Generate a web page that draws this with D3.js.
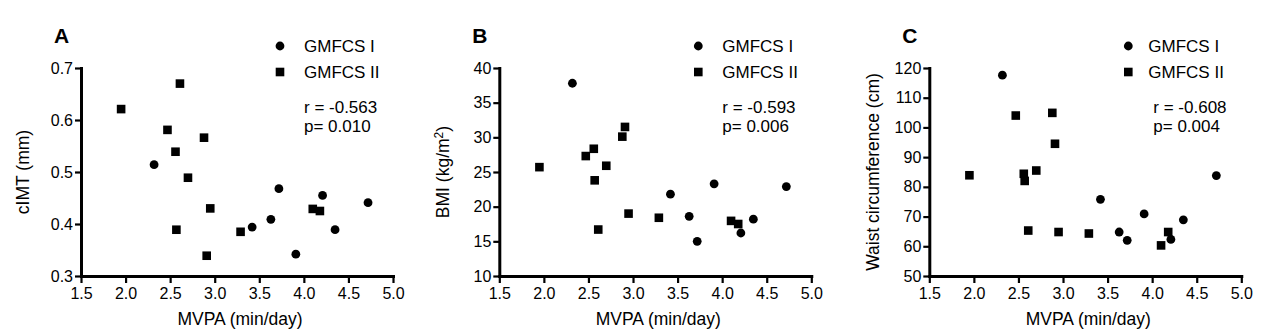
<!DOCTYPE html>
<html>
<head>
<meta charset="utf-8">
<script src="https://cdn.jsdelivr.net/npm/d3@7"></script>
<style>
  body { margin: 0; background: #fff; }
  text { font-family: "Liberation Sans", Arial, sans-serif; fill: #000; }
</style>
</head>
<body>
<div id="dashboard"></div>
<script>
// MVPA (min/day) for each child, split by GMFCS level
const mvpaI  = [2.32, 3.42, 3.63, 3.72, 3.91, 4.21, 4.35, 4.72];
const mvpaII = [1.95, 2.47, 2.56, 2.57, 2.61, 2.70, 2.88, 2.91, 2.95, 3.29, 4.10, 4.18];

// Outcome values, same order as the MVPA arrays
const cimtI  = [0.514, 0.394, 0.409, 0.468, 0.342, 0.455, 0.389, 0.441];
const cimtII = [0.621, 0.581, 0.539, 0.389, 0.670, 0.489, 0.566, 0.339, 0.430, 0.385, 0.429, 0.425];

const bmiI  = [37.8, 21.8, 18.6, 15.0, 23.3, 16.2, 18.2, 22.9];
const bmiII = [25.7, 27.3, 28.35, 23.8, 16.7, 25.9, 30.1, 31.5, 19.0, 18.4, 17.95, 17.5];

const waistI  = [117.6, 75.8, 64.8, 62.0, 70.9, 62.3, 68.9, 83.8];
const waistII = [83.9, 104.0, 84.4, 82.0, 65.3, 85.5, 104.9, 94.5, 64.8, 64.3, 60.3, 64.8];

const xTicks = [1.5, 2.0, 2.5, 3.0, 3.5, 4.0, 4.5, 5.0];
const groupLabels = ["GMFCS I", "GMFCS II"];
const panelLetters = ["A", "B", "C"];
// y titles: [main text, superscript, trailing text]
const yTitles = [["cIMT (mm)", "", ""], ["BMI (kg/m", "2", ")"], ["Waist circumference (cm)", "", ""]];
const yDomains = [[0.3, 0.7], [10, 40], [50, 120]];
const yTickValues = [
    [0.3, 0.4, 0.5, 0.6, 0.7],
    [10, 15, 20, 25, 30, 35, 40],
    [50, 60, 70, 80, 90, 100, 110, 120]
];
const yFormats = [".1f", "d", "d"];
const rTexts = ["r = -0.563", "r = -0.593", "r = -0.608"];
const pTexts = ["p= 0.010", "p= 0.006", "p= 0.004"];

const panels = [
    { I: cimtI, II: cimtII },
    { I: bmiI, II: bmiII },
    { I: waistI, II: waistII }
];

// plot geometry
const plotLefts = [81, 499.3, 929.3];
const plotWidth = 312, plotTop = 68, plotBottom = 276;
const statsOffset = [223, 223, 224];
const legendTextOffset = [223, 223, 219];
const titleOffset = [52, 50, 50];

const svg = d3.select("#dashboard")
    .append("svg")
    .attr("width", 1286)
    .attr("height", 333);

const squareSize = 8.6, circleR = 4.4;

panels.forEach((p, i) => {
    const left = plotLefts[i];
    const g = svg.append("g").attr("transform", `translate(${left},0)`);

    const x = d3.scaleLinear().domain([1.5, 5.0]).range([0, plotWidth]);
    const y = d3.scaleLinear().domain(yDomains[i]).range([plotBottom, plotTop]);

    // axes
    const xAxis = g.append("g")
        .attr("transform", `translate(0,${plotBottom})`)
        .call(d3.axisBottom(x).tickValues(xTicks).tickFormat(d3.format(".1f"))
            .tickSize(7).tickSizeOuter(0).tickPadding(5));

    const yAxis = g.append("g")
        .call(d3.axisLeft(y).tickValues(yTickValues[i]).tickFormat(d3.format(yFormats[i]))
            .tickSize(6).tickSizeOuter(0).tickPadding(2));

    [xAxis, yAxis].forEach(ax => {
        ax.select(".domain").attr("stroke-width", 3).attr("stroke-linecap", "square");
        ax.selectAll(".tick line").attr("stroke-width", 2.2);
        ax.selectAll(".tick text")
            .style("font-family", "'Liberation Sans', Arial, sans-serif")
            .style("font-size", "16px");
    });

    // axis titles
    g.append("text")
        .attr("x", plotWidth / 2 + 3)
        .attr("y", 325)
        .attr("text-anchor", "middle")
        .style("font-size", "17.5px")
        .text("MVPA (min/day)");

    const yt = g.append("text")
        .attr("transform", "rotate(-90)")
        .attr("x", -(plotTop + plotBottom) / 2)
        .attr("y", -titleOffset[i])
        .attr("text-anchor", "middle")
        .style("font-size", "17.5px");
    yt.append("tspan").text(yTitles[i][0]);
    if (yTitles[i][1]) {
        yt.append("tspan").attr("dy", -6).style("font-size", "12px").text(yTitles[i][1]);
        yt.append("tspan").attr("dy", 6).text(yTitles[i][2]);
    }

    // panel letter
    g.append("text")
        .attr("x", -27)
        .attr("y", 43)
        .style("font-size", "21px")
        .style("font-weight", "bold")
        .text(panelLetters[i]);

    // points
    g.selectAll("circle.pt")
        .data(d3.zip(mvpaI, p.I))
        .enter()
        .append("circle")
        .attr("class", "pt")
        .attr("cx", d => x(d[0]))
        .attr("cy", d => y(d[1]))
        .attr("r", circleR)
        .attr("fill", "#000");

    g.selectAll("rect.pt")
        .data(d3.zip(mvpaII, p.II))
        .enter()
        .append("rect")
        .attr("class", "pt")
        .attr("x", d => x(d[0]) - squareSize / 2)
        .attr("y", d => y(d[1]) - squareSize / 2)
        .attr("width", squareSize)
        .attr("height", squareSize)
        .attr("fill", "#000");

    // legend
    const lg = g.append("g").attr("transform", `translate(199,0)`);
    lg.append("circle").attr("cx", 0).attr("cy", 46).attr("r", circleR).attr("fill", "#000");
    lg.append("rect")
        .attr("x", -squareSize / 2).attr("y", 72 - squareSize / 2)
        .attr("width", squareSize).attr("height", squareSize)
        .attr("fill", "#000");

    groupLabels.forEach((label, k) => {
        g.append("text")
            .attr("x", legendTextOffset[i])
            .attr("y", 52 + k * 26)
            .style("font-size", "17px")
            .text(label);
    });

    // correlation stats
    g.append("text")
        .attr("x", statsOffset[i])
        .attr("y", 113)
        .style("font-size", "17px")
        .text(rTexts[i]);

    g.append("text")
        .attr("x", statsOffset[i])
        .attr("y", 132)
        .style("font-size", "17px")
        .text(pTexts[i]);
});
</script>
</body>
</html>
